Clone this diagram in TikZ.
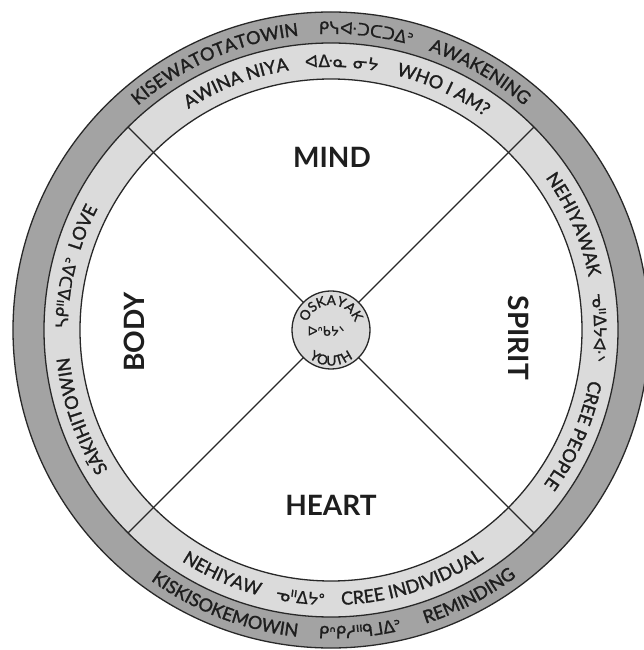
\documentclass[tikz,border=0pt]{standalone}
\usepackage{fontspec}
\setmainfont{Lato}
\newfontfamily\medf[FakeBold=1.5]{Lato}
\newfontfamily\syl[FakeBold=0.8]{DejaVu Sans}
\usetikzlibrary{decorations.text}
\definecolor{ringdark}{RGB}{163,163,163}
\definecolor{ringlight}{RGB}{219,219,219}
\definecolor{edgec}{RGB}{40,40,40}
\definecolor{txtc}{RGB}{30,30,30}
\newcommand{\rfnt}{\medf\fontsize{18}{21}\selectfont\color{txtc}}
\newcommand{\sfnt}{\syl\fontsize{17}{20}\selectfont\color{txtc}}
\newcommand{\hfnt}{\medf\fontsize{13.5}{15}\selectfont\color{txtc}}
\newcommand{\cwtext}[3]{\path[decorate,decoration={text along path,text align=center,text={#3}}] (0,0) ++({#2+70}:#1) arc[start angle={#2+70},end angle={#2-70},radius=#1];}
\newcommand{\ccwtext}[3]{\path[decorate,decoration={text along path,text align=center,text={#3}}] (0,0) ++({#2-70}:#1) arc[start angle={#2-70},end angle={#2+70},radius=#1];}
\tikzset{
  ringline/.style={draw=edgec,line width=1.3pt},
  spoke/.style={draw=edgec,line width=1.3pt},
  quad/.style={font=\fontsize{28}{31}\selectfont\bfseries,text=txtc,inner sep=0pt},
}
\begin{document}
\begin{tikzpicture}[x=1pt,y=1pt]
\useasboundingbox (-331,-320) rectangle (313,330);
\coordinate (O) at (0,0);
% rings
\path[ringline,fill=ringdark] (O) circle[radius=318];
\path[ringline,fill=ringlight] (O) circle[radius=287];
\path[ringline,fill=white] (O) circle[radius=251];
% spokes
\node[circle,minimum size=78pt,inner sep=0pt] (hub) at (O) {};
\foreach \a in {45,135,225,315}{
  \coordinate (s\a) at (\a:287);
  \draw[spoke] (hub.\a) -- (s\a);
}
\node[circle,minimum size=78pt,inner sep=0pt,ringline,fill=ringlight] (hubc) at (O) {};
% quadrant labels
\node[quad] (mind) at (1,173) {MIND};
\node[quad] (heart) at (0,-175) {HEART};
\node[quad,rotate=90] (body) at (-197,-2) {BODY};
\node[quad,rotate=-90] (spirit) at (188,-8) {SPIRIT};
% hub text
\cwtext{25}{90}{|\hfnt|OSKAYAK}
\ccwtext{35.5}{270}{|\hfnt|YOUTH}
\node[font=\syl\fontsize{13}{15}\selectfont,text=txtc] (hubsyl) at (-5,-1) {ᐅᐢᑲᔭᐠ};
% outer top
\cwtext{296}{113.5}{|\rfnt|KISEWATOTATOWIN}
\cwtext{296}{83.3}{|\sfnt|ᑭᓭᐘᑐᑕᑐᐃᐣ}
\cwtext{296}{60}{|\rfnt|AWAKENING}
% inner top
\cwtext{263}{111}{|\rfnt|AWINA NIYA}
\cwtext{263}{87.7}{|\sfnt|ᐊᐏᓇ ᓂᔭ}
\cwtext{263}{65}{|\rfnt|WHO I AM?}
% inner right
\cwtext{263}{23.5}{|\rfnt|NEHIYAWAK}
\cwtext{263}{0.5}{|\sfnt|ᓀᐦᐃᔭᐘᐠ}
\cwtext{263}{-23.5}{|\rfnt|CREE PEOPLE}
% inner left
\cwtext{263}{199}{|\rfnt|SĀKIHITOWIN}
\cwtext{263}{172}{|\sfnt|ᓴᑭᐦᐃᑐᐃᐣ}
\cwtext{263}{157.5}{|\rfnt|LOVE}
% inner bottom
\ccwtext{275}{246}{|\rfnt|NEHIYAW}
\ccwtext{275}{263.5}{|\sfnt|ᓀᐦᐃᔭᐤ}
\ccwtext{275}{288}{|\rfnt|CREE INDIVIDUAL}
% outer bottom
\ccwtext{308.5}{249}{|\rfnt|KISKISOKEMOWIN}
\ccwtext{308.5}{275.5}{|\sfnt|ᑭᐢᑭᓱᐦᑫᒧᐃᐣ}
\ccwtext{308.5}{297.4}{|\rfnt|REMINDING}
\end{tikzpicture}
\end{document}
